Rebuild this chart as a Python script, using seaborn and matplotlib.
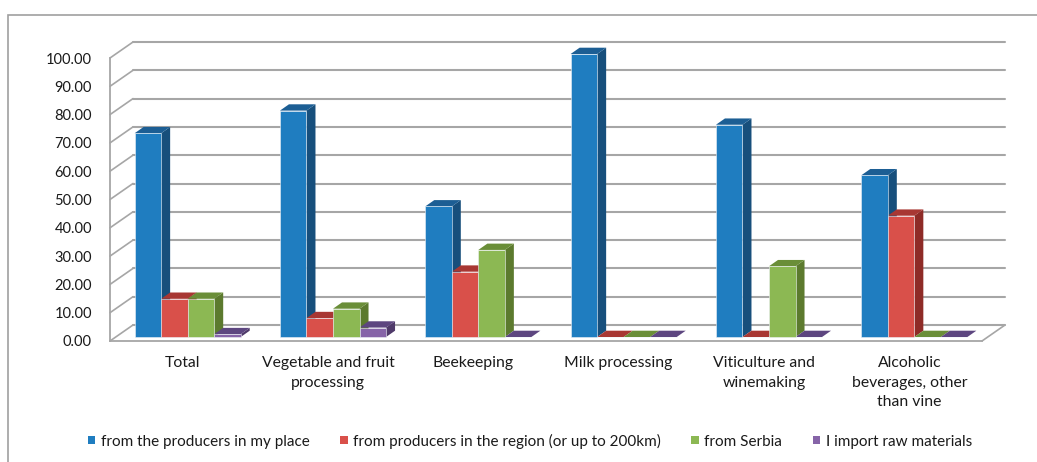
import numpy as np
import pandas as pd
import seaborn as sns
import matplotlib.pyplot as plt
from matplotlib.patches import Polygon, Patch, Rectangle
from matplotlib.lines import Line2D
from matplotlib.transforms import IdentityTransform, ScaledTranslation
from matplotlib import font_manager

# ---- data -------------------------------------------------------------
categories = [
    "Total",
    "Vegetable and fruit\nprocessing",
    "Beekeeping",
    "Milk processing",
    "Viticulture and\nwinemaking",
    "Alcoholic\nbeverages, other\nthan vine",
]
series = [
    "from the producers in my place",
    "from producers in the region (or up to 200km)",
    "from Serbia",
    "I import raw materials",
]
local_producers = [72.0, 80.0, 46.15, 100.0, 75.0, 57.14]
region_producers = [13.5, 6.67, 23.08, 0.0, 0.0, 42.86]
from_serbia = [13.5, 10.0, 30.77, 0.0, 25.0, 0.0]
imported = [1.0, 3.33, 0.0, 0.0, 0.0, 0.0]
yticks = [0, 10, 20, 30, 40, 50, 60, 70, 80, 90, 100]

# face colours: front, side, top
front_colors = ["#1f7dc0", "#d9504a", "#8cb853", "#8664a8"]
side_colors = ["#174f7c", "#8e2b27", "#5c7a2e", "#4f3a6a"]
top_colors = ["#1c5e94", "#a83733", "#6a8e38", "#5d4680"]

# ---- style ------------------------------------------------------------
sns.set_style("white")
installed = {f.name for f in font_manager.fontManager.ttflist}
family = [f for f in ["Lato", "Liberation Sans", "DejaVu Sans"] if f in installed]
plt.rcParams["font.family"] = family
text_color = "#1a1a1a"
grid_color = "#a6a6a6"
fs_y = 10.5
fs_x = 11.3
fs_leg = 11.0

W, H = 1037, 462
fig = plt.figure(figsize=(W / 100, H / 100), dpi=100)
ax = fig.add_axes([110 / W, 121 / H, 872 / W, 283 / H])

df = pd.DataFrame({
    "category": np.repeat(categories, len(series)),
    "source": series * len(categories),
    "value": np.ravel(np.column_stack([local_producers, region_producers,
                                       from_serbia, imported])),
})

sns.barplot(data=df, x="category", y="value", hue="source",
            order=categories, hue_order=series, palette=front_colors,
            saturation=1, width=0.73, gap=0, errorbar=None, legend=False,
            edgecolor="#eef2f7", linewidth=0.4, ax=ax)

ax.set_xlim(-0.5, 5.5)
ax.set_ylim(0, 100)

# depth offsets (display pixels)
bar_shift = (5, 4)      # bars sit slightly behind the front plane
bar_depth = (9, 6.3)    # thickness of each bar
wall_depth = (23, 16)   # floor / back-wall depth

front_offset = ScaledTranslation(bar_shift[0] / 100, bar_shift[1] / 100,
                                 fig.dpi_scale_trans)
ident = IdentityTransform()

for k, container in enumerate(ax.containers):
    for bar in container.patches:
        bar.set_transform(ax.transData + front_offset)
        bar.set_clip_on(False)
        bar.set_zorder(4)
        x0, w, h = bar.get_x(), bar.get_width(), bar.get_height()
        px0, py0 = ax.transData.transform((x0, 0)) + np.array(bar_shift)
        px1, py1 = ax.transData.transform((x0 + w, h)) + np.array(bar_shift)
        dx, dy = bar_depth
        side = Polygon([(px1, py0), (px1, py1), (px1 + dx, py1 + dy),
                        (px1 + dx, py0 + dy)], closed=True,
                       facecolor=side_colors[k], edgecolor="none",
                       transform=ident, clip_on=False, zorder=3)
        top = Polygon([(px0, py1), (px1, py1), (px1 + dx, py1 + dy),
                       (px0 + dx, py1 + dy)], closed=True,
                      facecolor=top_colors[k], edgecolor="none",
                      transform=ident, clip_on=False, zorder=3)
        ax.add_patch(side)
        ax.add_patch(top)

# back wall gridlines
back = ax.transData + ScaledTranslation(wall_depth[0] / 100, wall_depth[1] / 100,
                                        fig.dpi_scale_trans)
for v in yticks:
    ax.plot([-0.5, 5.5], [v, v], color=grid_color, lw=1.5, transform=back,
            clip_on=False, zorder=1)
    # side wall diagonals
    p = ax.transData.transform((-0.5, v))
    ax.add_line(Line2D([p[0], p[0] + wall_depth[0]], [p[1], p[1] + wall_depth[1]],
                       color=grid_color, lw=1.2, transform=ident,
                       clip_on=False, zorder=1))
# right edge of the floor
p = ax.transData.transform((5.5, 0))
ax.add_line(Line2D([p[0], p[0] + wall_depth[0]], [p[1], p[1] + wall_depth[1]],
                   color=grid_color, lw=1.2, transform=ident,
                   clip_on=False, zorder=1))

# axes styling
for side_name in ["top", "right"]:
    ax.spines[side_name].set_visible(False)
for side_name in ["left", "bottom"]:
    ax.spines[side_name].set_color(grid_color)
    ax.spines[side_name].set_linewidth(1.3)

ax.set_yticks(yticks)
ax.set_yticklabels([f"{v:.2f}" for v in yticks], fontsize=fs_y, color=text_color)
ax.tick_params(axis="y", direction="out", length=5, width=1.2,
               color=grid_color, pad=8)

ax.set_xticks(range(len(categories)))
ax.set_xticklabels(categories, fontsize=fs_x, color=text_color, linespacing=1.5)
ax.set_xticks(np.arange(-0.5, len(categories), 1.0), minor=True)
ax.tick_params(axis="x", which="major", length=0, pad=11)
ax.tick_params(axis="x", which="minor", direction="out", length=5, width=1.2,
               color=grid_color)
ax.set_xlabel("")
ax.set_ylabel("")

# legend
handles = [Patch(facecolor=c, edgecolor="none") for c in front_colors]
fig.legend(handles, series, loc="center", bbox_to_anchor=(0.511, 21 / H),
           ncol=4, frameon=False, fontsize=fs_leg, handlelength=0.5,
           handleheight=0.5, handletextpad=0.35, columnspacing=2.0,
           labelcolor=text_color)

# chart border
fig.add_artist(Rectangle((7.5, -20), W + 40, H - 15 + 20, fill=False,
                         edgecolor="#a0a0a0", lw=1.2, transform=ident))

fig.savefig("out.png", dpi=100, facecolor="white")
